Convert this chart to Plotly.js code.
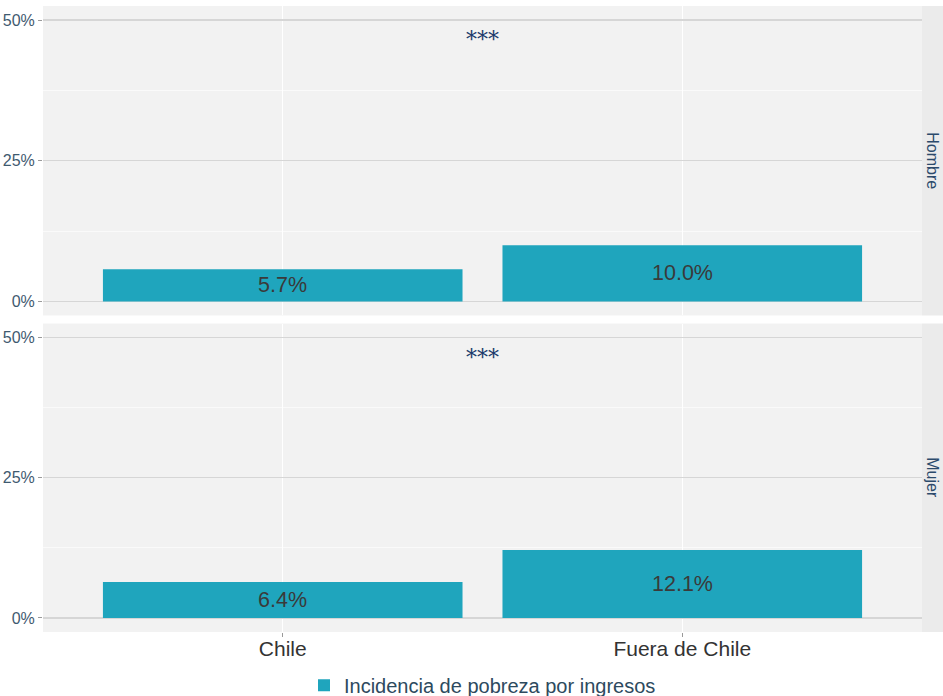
<!DOCTYPE html>
<html>
<head>
<meta charset="utf-8">
<script src="https://cdn.plot.ly/plotly-3.0.1.min.js"></script>
<style>html,body{margin:0;padding:0;background:#fff;}#chart{width:943px;height:696px;}</style>
</head>
<body>
<div id="chart"></div>
<script>
const categories = ['Chile', 'Fuera de Chile'];
const hombreValues = [5.7, 10.0];
const mujerValues = [6.4, 12.1];
const facetLabels = ['Hombre', 'Mujer'];
const significance = ['***', '***'];
const significanceY = [46.5, 46.5];
const yTickVals = [0, 25, 50];
const yTickText = ['0%', '25%', '50%'];
const seriesName = 'Incidencia de pobreza por ingresos';

const barColor = '#1fa5bd';
const fmt = v => v.toFixed(1) + '%';

const traces = [
  {type: 'bar', x: categories, y: hombreValues, xaxis: 'x2', yaxis: 'y', name: seriesName,
   marker: {color: barColor}, width: 0.9, showlegend: true, hoverinfo: 'skip'},
  {type: 'bar', x: categories, y: mujerValues, xaxis: 'x', yaxis: 'y2', name: seriesName,
   marker: {color: barColor}, width: 0.9, showlegend: false, hoverinfo: 'skip'}
];

const annotations = [];
[[hombreValues, 'x2', 'y'], [mujerValues, 'x', 'y2']].forEach(([vals, xa, ya], k) => {
  vals.forEach((v, i) => {
    annotations.push({x: categories[i], y: v / 2, xref: xa, yref: ya, text: fmt(v), showarrow: false,
      font: {size: 21.5, color: '#3a3a3a', family: 'Liberation Sans, Arial, sans-serif'}});
  });
  annotations.push({x: 0.5, y: significanceY[k], xref: xa, yref: ya, text: significance[k], showarrow: false,
    font: {size: 22, color: '#1b3a6b', family: 'DejaVu Serif, serif'}});
});

const stripW = 21 / 879;
const domTop = [0.5056, 1];
const domBot = [0, 0.4928];
const shapes = [];
[domTop, domBot].forEach((d, k) => {
  shapes.push({type: 'rect', xref: 'paper', yref: 'paper', x0: 1, x1: 1 + stripW, y0: d[0], y1: d[1],
    fillcolor: '#ebebeb', line: {width: 0}, layer: 'below'});
  annotations.push({xref: 'paper', yref: 'paper', x: 1 + stripW / 2, y: (d[0] + d[1]) / 2, text: facetLabels[k],
    xanchor: 'center', yanchor: 'middle',
    textangle: 90, showarrow: false, font: {size: 16, color: '#2b4a6b', family: 'Liberation Sans, Arial, sans-serif'}});
});

const yaxisBase = {
  range: [-2.5, 52.5], tickvals: yTickVals, ticktext: yTickText, fixedrange: true,
  showgrid: true, gridcolor: '#d6d6d6', gridwidth: 1.2, zeroline: false,
  ticks: 'outside', ticklen: 4, tickcolor: '#9a9a9a',
  tickfont: {size: 16, color: '#3f5a70', family: 'Liberation Sans, Arial, sans-serif'},
  minor: {tickvals: [12.5, 37.5], showgrid: true, gridcolor: '#fafafa', gridwidth: 1, ticks: ''},
  showline: false
};
const xaxisBase = {
  type: 'category', range: [-0.6, 1.6], showgrid: true, gridcolor: '#ffffff', gridwidth: 1.2,
  zeroline: false, showline: false, ticks: 'outside', ticklen: 4, tickcolor: '#9a9a9a',
  tickfont: {size: 21, color: '#333333', family: 'Liberation Sans, Arial, sans-serif'}
};

const layout = {
  width: 943, height: 696,
  margin: {l: 43, r: 21, t: 6, b: 64, autoexpand: false},
  paper_bgcolor: '#ffffff', plot_bgcolor: '#f2f2f2',
  xaxis: Object.assign({}, xaxisBase, {anchor: 'y2', ticklabelstandoff: -6}),
  xaxis2: Object.assign({}, xaxisBase, {anchor: 'y', matches: 'x', showticklabels: false, ticks: ''}),
  yaxis: Object.assign({}, yaxisBase, {domain: domTop, anchor: 'x2'}),
  yaxis2: Object.assign({}, yaxisBase, {domain: domBot, anchor: 'x'}),
  showlegend: true,
  legend: {orientation: 'h', x: 0.5, xanchor: 'center', y: -0.085, yanchor: 'middle',
    font: {size: 20, color: '#2d4a5e', family: 'Liberation Sans, Arial, sans-serif'}},
  annotations: annotations,
  shapes: shapes,
  bargap: 0.1
};

Plotly.newPlot('chart', traces, layout, {displayModeBar: false, staticPlot: true});
</script>
</body>
</html>
